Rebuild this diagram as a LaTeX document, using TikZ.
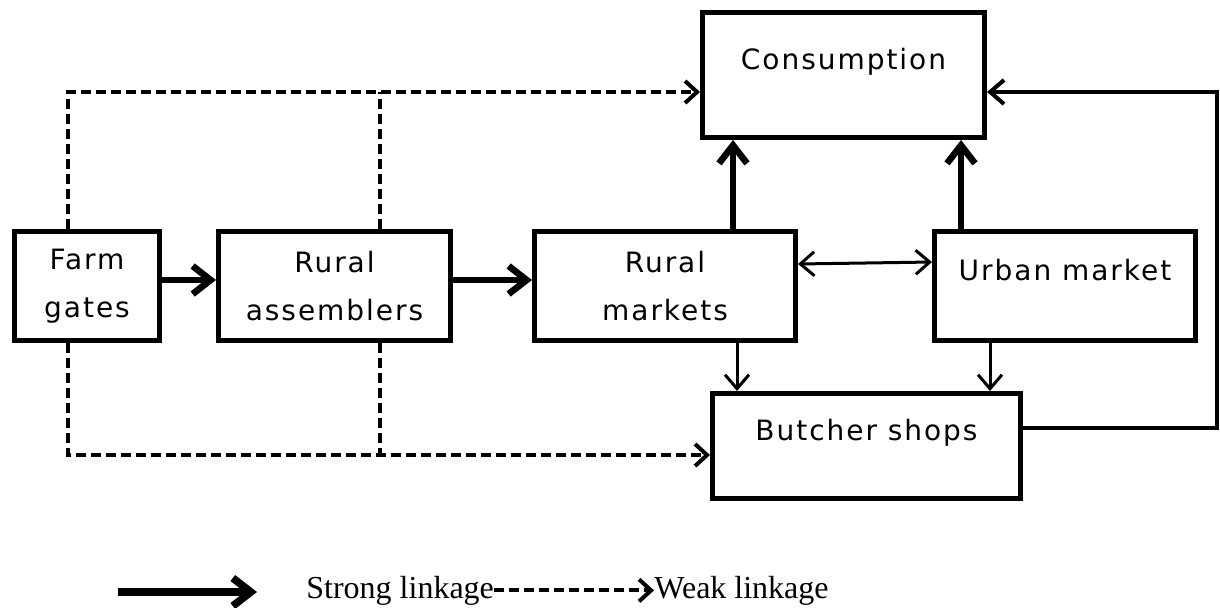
\documentclass[tikz,border=0pt]{standalone}
\usepackage{fontspec}
\newfontfamily\boxfont[LetterSpace=7]{DejaVu Sans}
\newfontfamily\legfont{Liberation Serif}
\usetikzlibrary{arrows.meta}
\tikzset{bigbarb/.tip={Straight Barb[length=9pt,width=14pt]},
  smallbarb/.tip={Straight Barb[length=7pt,width=12pt]},
  dashbarb/.tip={Straight Barb[length=6pt,width=11pt]}}
\begin{document}
\begin{tikzpicture}[x=0.5pt,y=-0.5pt,
  box/.style={draw,line width=2.5pt,align=center,minimum height=54.5pt,font=\boxfont\fontsize{14}{24}\selectfont},
  textup/.style={text depth=16pt},
  strong/.style={line width=3.3pt,-bigbarb},
  thin/.style={line width=1.5pt,-smallbarb},
  wk/.style={line width=2pt,dash pattern=on 5pt off 2.5pt},
  weak/.style={wk,-dashbarb},
  lbl/.style={anchor=base west,inner sep=0pt,font=\legfont\fontsize{16}{19}\selectfont}]
\useasboundingbox(0,0)rectangle(1220,607);
\node[box,minimum width=72.5pt](farm)at(87,286){Farm\\gates};
\node[box,minimum width=116pt](asm)at(334.5,286){Rural\\assemblers};
\node[box,minimum width=130.5pt](rmk)at(665,286){Rural\\markets};
\node[box,minimum width=130.5pt,textup](umk)at(1065,286){Urban market};
\node[box,minimum width=141pt,minimum height=62.5pt,textup](cons)at(843.5,75){Consumption};
\node[box,minimum width=154pt,minimum height=52.5pt,textup](bsh)at(866.5,446){Butcher shops};
\coordinate(tj)at(380,92);
\coordinate(bj)at(380,455);
\draw[strong]([yshift=3pt]farm.east)--([yshift=3pt]asm.west);
\draw[strong]([yshift=3pt]asm.east)--([yshift=3pt]rmk.west);
\draw[line width=1.5pt,smallbarb-smallbarb]([yshift=11pt]rmk.east)--([yshift=12pt]umk.west);
\draw[strong](rmk.north-|733,0)--(cons.south-|733,0);
\draw[strong](umk.north-|961,0)--(cons.south-|961,0);
\draw[thin](rmk.south-|737,0)--(bsh.north-|737,0);
\draw[thin](umk.south-|990,0)--(bsh.north-|990,0);
\draw[line width=2pt,-smallbarb]([yshift=9pt]bsh.east)-|(1217,92)--(cons.east|-0,92);
\draw[weak](farm.north-|68,0)|-(cons.west|-0,92);
\draw[wk](asm.north-|380,0)--(tj);
\draw[weak](farm.south-|68,0)|-(bsh.west|-0,455);
\draw[wk](asm.south-|380,0)--(bj);
\coordinate(ls)at(118,592);
\coordinate(le)at(257,592);
\draw[line width=3.8pt,-bigbarb](ls)--(le);
\node[lbl](stxt)at(306,598){Strong linkage};
\node[lbl](wtxt)at(654,598){Weak linkage};
\draw[weak](stxt.east)--(wtxt.west);
\end{tikzpicture}
\end{document}
